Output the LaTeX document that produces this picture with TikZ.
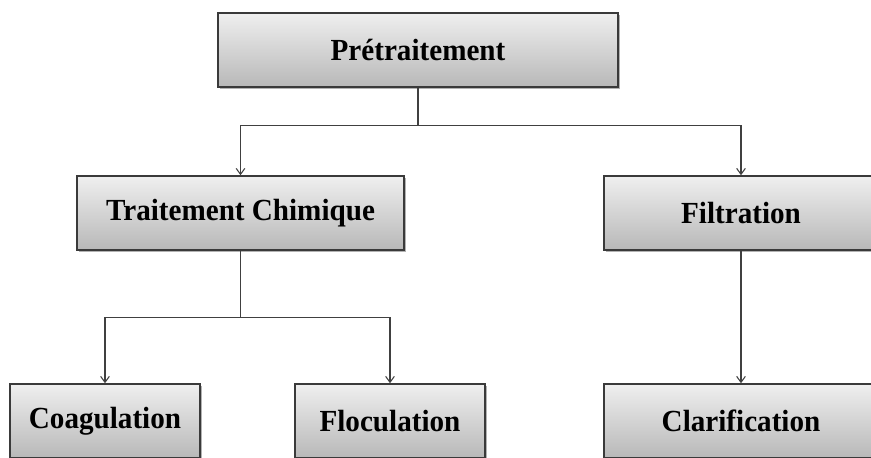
\documentclass[tikz,border=0pt]{standalone}
\usepackage{fontspec}
\setmainfont{Liberation Serif}
\usetikzlibrary{positioning,arrows.meta,shadows}
\definecolor{boxline}{HTML}{3A3A3A}
\definecolor{boxtop}{HTML}{EFEFEF}
\definecolor{boxbottom}{HTML}{B8B8B8}
\definecolor{wire}{HTML}{404040}
\newcommand{\stagetext}[1]{\scalebox{0.95}[1]{#1}}

\begin{document}
\begin{tikzpicture}[x=0.75pt,y=-0.75pt,
    stage/.style={draw=boxline,line width=1.1pt,top color=boxtop,bottom color=boxbottom,
      minimum height=55.5pt,inner sep=0pt,
      font=\bfseries\fontsize{23}{26}\selectfont,
      drop shadow={shadow xshift=1.6pt,shadow yshift=-1.6pt,fill=black,opacity=0.3}},
    link/.style={wire,line width=0.8pt},
    flow/.style={link,-{Straight Barb[length=4.5pt,width=6.5pt]}}]
        \clip (0,0) rectangle (871,457);
        \node[stage,minimum width=300pt] (pretraitement) at (418,50) {\stagetext{Prétraitement}};
        \node[stage,minimum width=245pt] (chimique) at (240.5,213) {\stagetext{Traitement Chimique}};
        \node[stage,minimum width=205.5pt] (filtration) at (741,213) {\stagetext{Filtration}};
        \node[stage,minimum width=142.5pt] (coagulation) at (105,421) {\stagetext{Coagulation}};
        \node[stage,minimum width=142.5pt] (floculation) at (390,421) {\stagetext{Floculation}};
        \node[stage,minimum width=205.5pt] (clarification) at (741,421) {\stagetext{Clarification}};
        \draw[flow] (pretraitement.south) -- ++(0,38) -| (chimique.north);
        \draw[flow] (pretraitement.south) -- ++(0,38) -| (filtration.north);
        \draw[flow] (chimique.south) -- ++(0,67) -| (coagulation.north);
        \draw[flow] (chimique.south) -- ++(0,67) -| (floculation.north);
        \draw[flow] (filtration.south) -- (clarification.north);
      \end{tikzpicture}
\end{document}
